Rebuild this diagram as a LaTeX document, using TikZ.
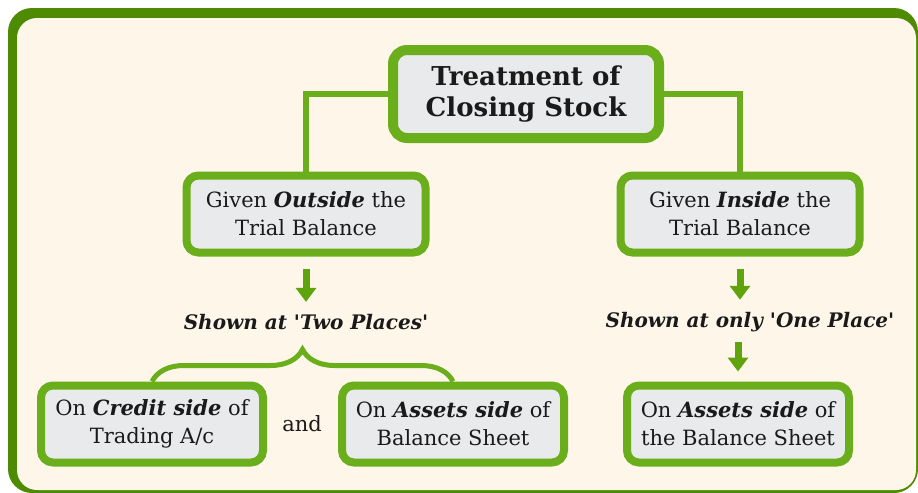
\documentclass[tikz,border=0pt]{standalone}
\usepackage{fontspec}
\setmainfont{DejaVu Serif}
\usetikzlibrary{arrows.meta,decorations.pathreplacing}

\definecolor{framegreen}{HTML}{4E8B02}
\definecolor{paper}{HTML}{FDF6E9}
\definecolor{boxgreen}{HTML}{6AAE1C}
\definecolor{boxfill}{HTML}{E9EAEC}
\definecolor{arrowgreen}{HTML}{5FA40C}
\definecolor{ink}{HTML}{1A1A1A}

\begin{document}
\begin{tikzpicture}[
  x=0.5pt, y=-0.5pt,
  node distance=60pt,
  headnode/.style={rectangle, rounded corners=7pt, draw=boxgreen, line width=5pt, fill=boxfill, text=ink, minimum width=133pt, minimum height=44pt, align=center, font=\fontsize{13}{15.5}\selectfont\bfseries},
  givennode/.style={rectangle, rounded corners=6pt, draw=boxgreen, line width=4pt, fill=boxfill, text=ink, minimum width=119.5pt, minimum height=38.5pt, align=center, font=\fontsize{10.5}{14}\selectfont},
  placenode/.style={givennode, minimum width=111pt},
  tag/.style={inner sep=0pt, text=ink, font=\fontsize{10}{12}\selectfont\bfseries\itshape},
  link/.style={draw=boxgreen, line width=3pt},
  downarrow/.style={-{Triangle[width=10pt,length=7pt]}, draw=arrowgreen, line width=3.5pt},
  bracket/.style={decorate, decoration={brace, amplitude=16pt}, draw=boxgreen, line width=2.5pt}
]

% Frame
\useasboundingbox (0,0) rectangle (918,493);
\fill[framegreen, rounded corners=12pt] (8,8) rectangle (918,493);
\fill[paper, rounded corners=10pt] (17,18) rectangle (916,490);

% Heading and the two cases
\node[headnode] (head) at (526,94) {Treatment of\\Closing Stock};
\node[givennode, below of=head, xshift=-110pt] (outside) {Given \textbf{\textit{Outside}} the\\Trial Balance};
\node[givennode, below of=head, xshift=107pt] (inside) {Given \textbf{\textit{Inside}} the\\Trial Balance};

\draw[link] (head.west) -| (outside.north);
\draw[link] (head.east) -| (inside.north);

% Outside the trial balance
\node[tag, below of=outside, node distance=54pt] (twoplaces) {Shown at \textquotesingle Two Places\textquotesingle};
\node[placenode, below of=twoplaces, node distance=51pt, xshift=-77pt] (credit) {On \textbf{\textit{Credit side}} of\\Trading A/c};
\node[placenode, below of=twoplaces, node distance=51pt, xshift=73.5pt] (assets) {On \textbf{\textit{Assets side}} of\\Balance Sheet};
\node[text=ink, font=\fontsize{10.5}{12}\selectfont, below of=twoplaces, node distance=51pt, xshift=-2pt] (and) {and};

\draw[downarrow, shorten <=6pt, shorten >=6pt] (outside.south) -- (twoplaces.north);
\draw[bracket] (credit.north) -- (assets.north);

% Inside the trial balance
\node[tag, below of=inside, node distance=54pt, xshift=5pt] (oneplace) {Shown at only \textquotesingle One Place\textquotesingle};
\node[placenode, below of=oneplace, node distance=51pt, xshift=-6pt] (assetsonly) {On \textbf{\textit{Assets side}} of\\the Balance Sheet};

\draw[downarrow, shorten <=6pt, shorten >=6pt] (inside.south) -- (inside.south |- oneplace.north);
\draw[downarrow, shorten <=5pt, shorten >=5pt] (assetsonly.north |- oneplace.south) -- (assetsonly.north);

\end{tikzpicture}
\end{document}
